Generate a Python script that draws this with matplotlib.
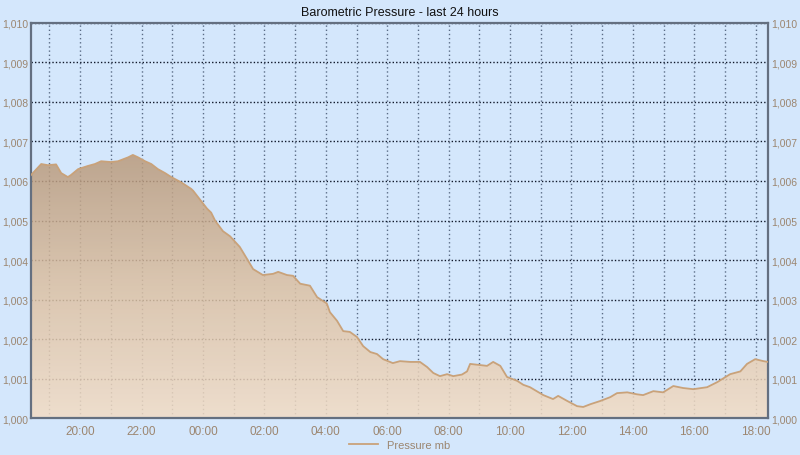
import numpy as np
import pandas as pd
import matplotlib
matplotlib.use("Agg")
import matplotlib.pyplot as plt
import matplotlib.dates as mdates
from matplotlib.colors import LinearSegmentedColormap
from matplotlib.ticker import FuncFormatter

# readings taken off the chart (local time, mb)
times = ["18:24", "18:44", "18:57", "19:13", "19:23", "19:36", "19:42", "19:56",
         "20:15", "20:29", "20:41", "21:00", "21:14", "21:34", "21:43", "21:53",
         "22:07", "22:19", "22:32", "22:46", "22:58", "23:17", "23:37", "23:41",
         "23:56", "00:08", "00:16", "00:24", "00:39", "00:53", "01:12", "01:26",
         "01:38", "01:57", "02:17", "02:27", "02:44", "02:56", "03:10", "03:29",
         "03:43", "04:02", "04:08", "04:22", "04:34", "04:47", "05:01", "05:13",
         "05:27", "05:40", "05:52", "06:11", "06:25", "06:45", "07:04", "07:18",
         "07:30", "07:43", "07:57", "08:09", "08:26", "08:36", "08:42", "09:02",
         "09:15", "09:27", "09:41", "09:54", "10:14", "10:26", "10:39", "11:05",
         "11:24", "11:34", "11:52", "12:11", "12:23", "12:37", "12:56", "13:16",
         "13:29", "13:49", "14:08", "14:20", "14:40", "14:59", "15:19", "15:38",
         "15:58", "16:25", "16:45", "17:10", "17:30", "17:43", "17:59", "18:15",
         "18:24"]
pressure = [1006.15, 1006.43, 1006.40, 1006.42, 1006.20, 1006.10, 1006.15, 1006.30,
            1006.38, 1006.43, 1006.50, 1006.48, 1006.50, 1006.60, 1006.66, 1006.60,
            1006.50, 1006.43, 1006.30, 1006.20, 1006.10, 1005.97, 1005.80, 1005.75,
            1005.50, 1005.30, 1005.20, 1004.99, 1004.73, 1004.60, 1004.33, 1004.03,
            1003.77, 1003.62, 1003.65, 1003.70, 1003.62, 1003.60, 1003.40, 1003.35,
            1003.06, 1002.90, 1002.68, 1002.46, 1002.20, 1002.18, 1002.05, 1001.82,
            1001.67, 1001.62, 1001.49, 1001.39, 1001.44, 1001.42, 1001.42, 1001.29,
            1001.14, 1001.06, 1001.11, 1001.06, 1001.10, 1001.18, 1001.37, 1001.34,
            1001.32, 1001.42, 1001.32, 1001.04, 1000.94, 1000.84, 1000.78, 1000.58,
            1000.48, 1000.56, 1000.43, 1000.30, 1000.28, 1000.35, 1000.43, 1000.53,
            1000.63, 1000.65, 1000.60, 1000.58, 1000.68, 1000.65, 1000.81, 1000.76,
            1000.73, 1000.78, 1000.91, 1001.11, 1001.18, 1001.37, 1001.49, 1001.44,
            1001.42]

# build datetimes, rolling over midnight
stamps = []
day = pd.Timestamp("2024-03-01")
prev = None
for t in times:
    ts = pd.Timestamp(f"{day.date()} {t}")
    if prev is not None and ts < prev:
        day = day + pd.Timedelta(days=1)
        ts = pd.Timestamp(f"{day.date()} {t}")
    stamps.append(ts)
    prev = ts
x = mdates.date2num(stamps)
y = np.array(pressure)

bg = "#d4e7fc"
label_col = "#9c8670"
plt.rcParams["font.family"] = ["Liberation Sans", "DejaVu Sans"]

fig = plt.figure(figsize=(8, 4.56), dpi=100, facecolor=bg)
ax = fig.add_axes([0.03875, 0.0811, 0.92125, 0.8663], facecolor=bg)

ax.set_xlim(x[0], x[-1])
ax.set_ylim(1000, 1010)

# gradient fill under the curve
cmap = LinearSegmentedColormap.from_list("fill", ["#f3dcc4", "#dcc0a2", "#b9997a"])
grad = np.linspace(0, 1, 256).reshape(-1, 1)
img = ax.imshow(grad, cmap=cmap, origin="lower", aspect="auto",
                extent=[x[0], x[-1], 1000, y.max()], zorder=2, alpha=0.84)
poly = ax.fill_between(x, 1000, y, facecolor="none", edgecolor="none")
clip = poly.get_paths()[0]
img.set_clip_path(clip, transform=ax.transData)
line, = ax.plot(x, y, color="#c9a27a", lw=1.3, zorder=3, label="Pressure mb")

# grid
ax.xaxis.set_major_locator(mdates.HourLocator(byhour=range(0, 24, 2)))
ax.xaxis.set_minor_locator(mdates.HourLocator())
ax.xaxis.set_major_formatter(mdates.DateFormatter("%H:%M"))
ax.set_yticks(np.arange(1000, 1011, 1))
ax.yaxis.set_major_formatter(FuncFormatter(lambda v, p: f"{v:,.0f}"))
ax.grid(True, axis="x", which="both", color="#5a6c86", ls=(0, (1, 2)), lw=1, zorder=1)
ax.grid(True, axis="y", which="major", color="#10182a", ls=(0, (1, 1.5)), lw=1, zorder=1)
ax.set_axisbelow(True)

ax.tick_params(axis="both", which="both", length=0, labelcolor=label_col)
ax.tick_params(axis="y", labelright=True, right=False, pad=2, labelsize=7.5)
ax.tick_params(axis="x", pad=5, labelsize=8.5)
for s in ax.spines.values():
    s.set_color("#646f80")
    s.set_linewidth(1.6)

fig.text(0.5, 0.972, "Barometric Pressure - last 24 hours", ha="center", va="center",
         fontsize=9, color="#111111")
leg = fig.legend(handles=[line], loc="center", bbox_to_anchor=(0.5, 0.022), frameon=False,
                 fontsize=8, handlelength=2.6, labelcolor=label_col)

fig.savefig("out.png", dpi=100, facecolor=bg)
